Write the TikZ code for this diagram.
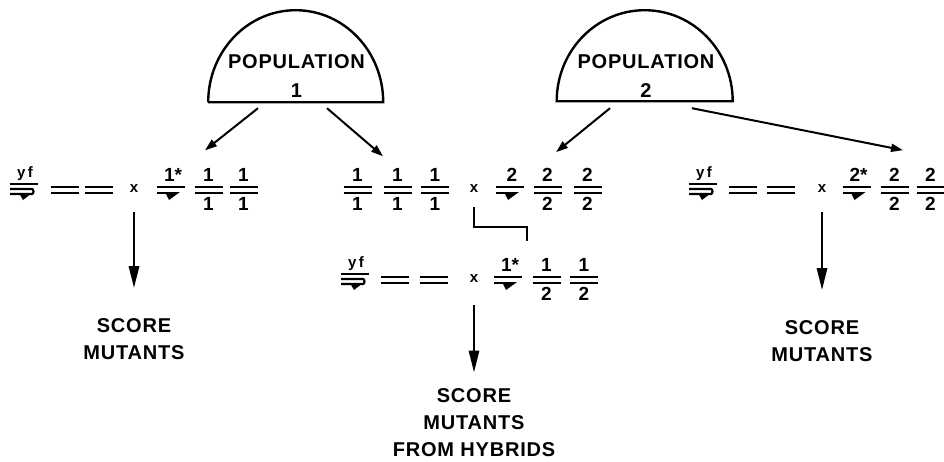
\documentclass[tikz,border=0pt]{standalone}
\usepackage{fontspec}
\setmainfont{Liberation Sans}
\newfontfamily\capfont[LetterSpace=4]{Liberation Sans}
\usetikzlibrary{arrows.meta,calc}

% double bar of a chromosome pair, centred at (#1,#2)
\newcommand{\dbar}[2]{%
  \draw[bar] (#1-14,#2-3) -- (#1+14,#2-3);
  \draw[bar] (#1-14,#2+3) -- (#1+14,#2+3);}
% name, x, y, upper, lower
\newcommand{\pair}[5]{%
  \dbar{#2}{#3}
  \node[num] (#1) at (#2,#3-15) {#4};
  \node[num] (#1b) at (#2,#3+14) {#5};}
% marked chromosome: name, x, y, upper
\newcommand{\mut}[4]{%
  \draw[bar] (#2-14,#3-3) -- (#2+14,#3-3);
  \draw[bar] (#2-14,#3+3) -- (#2+3,#3+3);
  \fill (#2-6,#3+2) -- (#2+9,#3+2) -- (#2-2,#3+10) -- cycle;
  \node[num] (#1) at (#2+2,#3-15) {#4};}
% tester chromosome: name, x, y
\newcommand{\yf}[3]{%
  \draw[bar] (#2-14,#3-6) -- (#2+14,#3-6);
  \draw[bar] (#2-14,#3-1) -- (#2+8,#3-1) to[out=0,in=0] (#2+8,#3+4) -- (#2-14,#3+4);
  \fill (#2-5,#3+3) -- (#2+8,#3+3) -- (#2-1,#3+10) -- cycle;
  \node[yftext] (#1) at (#2+1,#3-16) {y\,f};}

\begin{document}
\begin{tikzpicture}[x=1pt,y=-1pt,>={Triangle[length=22pt,width=10pt]},
  bar/.style={line width=2.2pt},
  num/.style={font=\fontsize{19}{19}\selectfont\bfseries,inner sep=1pt},
  yftext/.style={font=\fontsize{15}{15}\selectfont\bfseries,inner sep=1pt},
  cross/.style={font=\fontsize{15}{15}\selectfont\bfseries,inner sep=1pt},
  scoretext/.style={font=\capfont\fontsize{20}{27}\selectfont\bfseries,align=center,inner sep=0pt},
  poptext/.style={font=\capfont\fontsize{20}{29}\selectfont\bfseries,align=center,inner sep=0pt},
  dome/.style={minimum width=175pt,minimum height=92pt,inner sep=0pt},
  down/.style={->,line width=2.6pt},
  diag/.style={-{Triangle[length=12pt,width=8pt]},line width=2pt}]
\useasboundingbox (0,0) rectangle (944,461);

% populations
\node[dome] (pop1) at (295.5,56) {};
\node[dome] (pop2) at (645,55) {};
\draw[line width=2.4pt] (pop1.south west) -- (pop1.south east)
  arc[start angle=0,end angle=180,x radius=87.5pt,y radius=92pt] -- cycle;
\draw[line width=2.4pt] (pop2.south west) -- (pop2.south east)
  arc[start angle=0,end angle=180,x radius=88pt,y radius=91pt] -- cycle;
\node[poptext] (pop1txt) at (296.5,76.5) {POPULATION\\1};
\node[poptext] (pop2txt) at (646,76.5) {POPULATION\\2};

% first row, left
\yf{ya}{24}{190}
\dbar{65}{190}
\dbar{99}{190}
\node[cross] (x1) at (134,189) {x};
\mut{h1}{171}{190}{1*}
\pair{a1}{208.5}{190}{1}{1}
\pair{a2}{243.5}{190}{1}{1}

% first row, middle
\pair{m1}{357.5}{190}{1}{1}
\pair{m2}{397.5}{190}{1}{1}
\pair{m3}{435}{190}{1}{1}
\node[cross] (x2) at (474,189) {x};
\mut{h2}{510}{190}{2}
\pair{m4}{547.5}{190}{2}{2}
\pair{m5}{587.5}{190}{2}{2}

% first row, right
\yf{yb}{703}{190}
\dbar{743}{190}
\dbar{780.5}{190}
\node[cross] (x3) at (822,189) {x};
\mut{h3}{856.5}{190}{2*}
\pair{r1}{894.5}{190}{2}{2}
\pair{r2}{930.5}{190}{2}{2}

% second row
\yf{yc}{355}{280}
\dbar{395}{280}
\dbar{433.5}{280}
\node[cross] (x4) at (474,279) {x};
\mut{h4}{508}{280}{1*}
\pair{b1}{546.5}{280}{1}{2}
\pair{b2}{584}{280}{1}{2}

% results
\node[scoretext] (lbl1) at (134,339) {SCORE\\MUTANTS};
\node[scoretext] (lbl2) at (474,423) {SCORE\\MUTANTS\\FROM HYBRIDS};
\node[scoretext] (lbl3) at (822,341) {SCORE\\MUTANTS};

\draw[diag] ($(pop1.south)+(-37.5,6)$) -- ($(h1.north)+(32,-17)$);
\draw[diag] ($(pop1.south)+(31.5,6)$) -- ($(m1.north)+(25.5,-11)$);
\draw[diag] ($(pop2.south)+(-35,7)$) -- ($(m4.north)+(8.5,-15)$);
\draw[diag] ($(pop2.south)+(47,7)$) -- ($(r1.north)+(8.5,-17)$);

\draw[bar] ($(x2)+(0,18)$) -- ($(x2)+(0,38)$) -| ($(h4)+(17,-24)$);

\draw[down,shorten <=18pt,shorten >=30pt] (x1) -- (lbl1.north);
\draw[down,shorten <=21pt,shorten >=16pt] (x4) -- (lbl2.north);
\draw[down,shorten <=18pt,shorten >=30pt] (x3) -- (lbl3.north);
\end{tikzpicture}
\end{document}
